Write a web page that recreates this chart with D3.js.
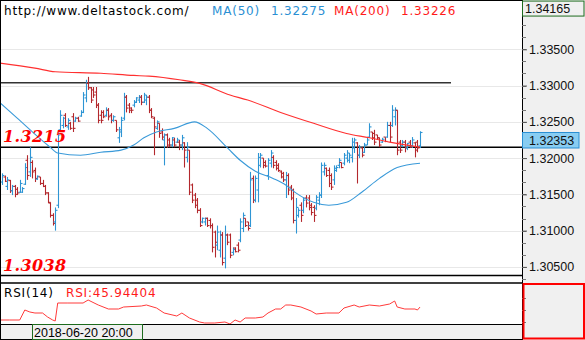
<!DOCTYPE html>
<html><head><meta charset="utf-8">
<script src="https://cdn.jsdelivr.net/npm/d3@7/dist/d3.min.js"></script>
<style>html,body{margin:0;padding:0;background:#fff;overflow:hidden}</style>
</head><body>
<svg id="c" width="585" height="340"></svg>
<script>
// ---------- data ----------
const open = [1.3167,1.3174,1.3161,1.3169,1.3155,1.3161,1.3157,1.3153,1.3153,1.3164,1.3197,1.3181,1.3194,1.3183,1.3171,1.3174,1.3165,1.3161,1.3152,1.3138,1.3121,1.3112,1.3135,1.3239,1.3245,1.3259,1.3243,1.3248,1.3257,1.3251,1.3255,1.3258,1.3263,1.3283,1.3303,1.3297,1.3294,1.3291,1.3273,1.3259,1.3263,1.3259,1.3266,1.3259,1.3252,1.3252,1.3228,1.3236,1.3255,1.3284,1.3273,1.3269,1.3273,1.3277,1.3280,1.3284,1.3277,1.3280,1.3284,1.3266,1.3255,1.3241,1.3248,1.3236,1.3225,1.3232,1.3225,1.3218,1.3225,1.3222,1.3222,1.3218,1.3221,1.3201,1.3211,1.3163,1.3149,1.3142,1.3128,1.3112,1.3112,1.3117,1.3114,1.3107,1.3098,1.3080,1.3073,1.3094,1.3062,1.3094,1.3094,1.3070,1.3076,1.3080,1.3087,1.3103,1.3117,1.3112,1.3107,1.3172,1.3142,1.3156,1.3190,1.3200,1.3194,1.3176,1.3193,1.3201,1.3194,1.3190,1.3181,1.3179,1.3170,1.3176,1.3160,1.3156,1.3114,1.3121,1.3135,1.3128,1.3145,1.3145,1.3135,1.3132,1.3131,1.3142,1.3149,1.3181,1.3186,1.3183,1.3176,1.3170,1.3183,1.3190,1.3194,1.3193,1.3200,1.3197,1.3201,1.3214,1.3221,1.3204,1.3214,1.3208,1.3218,1.3229,1.3236,1.3234,1.3232,1.3228,1.3222,1.3229,1.3229,1.3245,1.3245,1.3257,1.3266,1.3222,1.3217,1.3222,1.3214,1.3222,1.3217,1.3221,1.3222,1.3217];
const high = [1.3179,1.3176,1.3174,1.3170,1.3163,1.3163,1.3160,1.3170,1.3160,1.3193,1.3204,1.3215,1.3197,1.3187,1.3176,1.3174,1.3170,1.3163,1.3153,1.3139,1.3124,1.3132,1.3236,1.3266,1.3257,1.3262,1.3255,1.3250,1.3262,1.3257,1.3257,1.3266,1.3291,1.3308,1.3312,1.3298,1.3298,1.3298,1.3276,1.3266,1.3266,1.3270,1.3269,1.3262,1.3259,1.3252,1.3243,1.3257,1.3290,1.3287,1.3276,1.3270,1.3280,1.3284,1.3287,1.3287,1.3290,1.3287,1.3287,1.3269,1.3257,1.3252,1.3248,1.3241,1.3234,1.3234,1.3228,1.3229,1.3228,1.3228,1.3225,1.3232,1.3222,1.3222,1.3211,1.3165,1.3152,1.3145,1.3131,1.3118,1.3118,1.3118,1.3117,1.3110,1.3100,1.3107,1.3100,1.3098,1.3107,1.3096,1.3096,1.3077,1.3077,1.3084,1.3117,1.3125,1.3117,1.3112,1.3181,1.3176,1.3176,1.3207,1.3207,1.3200,1.3197,1.3200,1.3211,1.3204,1.3197,1.3193,1.3183,1.3181,1.3181,1.3179,1.3163,1.3158,1.3145,1.3131,1.3139,1.3146,1.3149,1.3149,1.3138,1.3135,1.3149,1.3153,1.3194,1.3194,1.3187,1.3187,1.3179,1.3190,1.3190,1.3200,1.3194,1.3207,1.3211,1.3207,1.3228,1.3228,1.3222,1.3218,1.3215,1.3221,1.3228,1.3248,1.3236,1.3239,1.3232,1.3228,1.3228,1.3229,1.3250,1.3250,1.3273,1.3270,1.3266,1.3225,1.3225,1.3225,1.3221,1.3225,1.3229,1.3222,1.3225,1.3237];
const low = [1.3163,1.3167,1.3156,1.3152,1.3149,1.3146,1.3149,1.3152,1.3152,1.3163,1.3170,1.3174,1.3172,1.3167,1.3170,1.3163,1.3160,1.3149,1.3138,1.3118,1.3107,1.3100,1.3131,1.3236,1.3241,1.3243,1.3239,1.3239,1.3236,1.3250,1.3250,1.3257,1.3262,1.3277,1.3294,1.3276,1.3283,1.3269,1.3248,1.3248,1.3255,1.3257,1.3252,1.3248,1.3250,1.3236,1.3221,1.3229,1.3252,1.3263,1.3262,1.3262,1.3270,1.3276,1.3276,1.3273,1.3276,1.3273,1.3262,1.3255,1.3204,1.3239,1.3228,1.3225,1.3190,1.3214,1.3215,1.3215,1.3215,1.3221,1.3211,1.3211,1.3187,1.3194,1.3149,1.3138,1.3131,1.3124,1.3105,1.3110,1.3107,1.3105,1.3103,1.3070,1.3063,1.3073,1.3063,1.3052,1.3048,1.3080,1.3062,1.3066,1.3070,1.3070,1.3084,1.3098,1.3105,1.3100,1.3105,1.3138,1.3139,1.3139,1.3187,1.3186,1.3187,1.3170,1.3187,1.3186,1.3183,1.3181,1.3172,1.3167,1.3145,1.3149,1.3142,1.3110,1.3096,1.3118,1.3112,1.3124,1.3132,1.3128,1.3121,1.3112,1.3128,1.3135,1.3145,1.3176,1.3174,1.3160,1.3156,1.3163,1.3181,1.3186,1.3186,1.3190,1.3194,1.3193,1.3194,1.3207,1.3165,1.3200,1.3201,1.3207,1.3218,1.3228,1.3225,1.3218,1.3225,1.3215,1.3221,1.3222,1.3228,1.3222,1.3243,1.3245,1.3204,1.3207,1.3215,1.3208,1.3211,1.3214,1.3214,1.3201,1.3208,1.3214];
const close = [1.3176,1.3168,1.3170,1.3155,1.3161,1.3150,1.3152,1.3165,1.3158,1.3187,1.3176,1.3201,1.3181,1.3172,1.3175,1.3165,1.3161,1.3152,1.3139,1.3121,1.3110,1.3128,1.3232,1.3259,1.3255,1.3245,1.3252,1.3241,1.3241,1.3255,1.3251,1.3263,1.3287,1.3303,1.3297,1.3280,1.3287,1.3273,1.3252,1.3252,1.3257,1.3266,1.3257,1.3252,1.3257,1.3239,1.3239,1.3252,1.3284,1.3269,1.3266,1.3266,1.3277,1.3283,1.3284,1.3277,1.3287,1.3284,1.3266,1.3257,1.3243,1.3250,1.3234,1.3229,1.3232,1.3218,1.3218,1.3228,1.3218,1.3225,1.3218,1.3228,1.3211,1.3215,1.3153,1.3142,1.3135,1.3128,1.3107,1.3117,1.3117,1.3107,1.3107,1.3077,1.3084,1.3098,1.3094,1.3056,1.3094,1.3084,1.3066,1.3074,1.3071,1.3073,1.3112,1.3121,1.3107,1.3103,1.3170,1.3142,1.3172,1.3201,1.3204,1.3190,1.3189,1.3197,1.3207,1.3190,1.3186,1.3183,1.3174,1.3170,1.3176,1.3156,1.3145,1.3114,1.3132,1.3128,1.3121,1.3142,1.3138,1.3132,1.3125,1.3121,1.3146,1.3149,1.3190,1.3190,1.3176,1.3165,1.3160,1.3186,1.3187,1.3197,1.3187,1.3204,1.3207,1.3204,1.3222,1.3225,1.3204,1.3215,1.3204,1.3218,1.3225,1.3243,1.3228,1.3222,1.3228,1.3218,1.3226,1.3223,1.3245,1.3229,1.3266,1.3266,1.3211,1.3211,1.3222,1.3214,1.3220,1.3215,1.3225,1.3211,1.3214,1.32353];

const ma50Idx = [-1,6,19,22,31,39,47,52,56,61,68,76,81,89,94,100,107,112,116,123,129,136,142,149,156,165];
const ma50Val = [1.3277,1.3255,1.3215,1.3207,1.3204,1.3208,1.3211,1.3218,1.3228,1.3236,1.3241,1.3250,1.3241,1.3214,1.3197,1.3182,1.3172,1.3163,1.3152,1.3139,1.3135,1.3139,1.3153,1.3172,1.3187,1.3193];
const ma200Idx = [-1,13,21,39,52,58,70,78,90,97,110,123,136,145,153,165];
const ma200Val = [1.3331,1.3324,1.3319,1.3317,1.3314,1.3313,1.3308,1.3303,1.3287,1.3280,1.3263,1.3248,1.3234,1.3228,1.3222,1.3215];

const rsiIdx = [-1,3,7,9,11,13,16,18,20,21,22,26,32,34,38,42,46,48,55,57,61,64,69,71,74,78,80,84,88,90,92,94,96,100,103,105,108,110,112,114,118,122,124,128,133,135,139,141,145,149,153,155,156,159,163,164,165];
const rsiVal = [33,33,33,43,41,40,40,36,33,32,50,50,50,53,48,44,44,46,47,48,45,40,37,40,35,31,30,30,31,29,33,31,35,35,36,40,44,44,48,48,46,42,39,40,40,45,48,46,48,47,49,52,46,44,44,43,45.94];
const rsiTicks = [31,43,55];

const priceTicks = [1.305,1.310,1.315,1.320,1.325,1.330,1.335];
const levelPrices = [1.3215,1.3038];
const levelLabels = ["1.3215","1.3038"];
const resistancePrice = 1.3304;
const lastPrice = 1.32353;
const topPrice = 1.34165;
const dateLabel = "2018-06-20 20:00";
const siteLabel = "http://www.deltastock.com/";
const ma50Text = ["MA(50)","1.32275"];
const ma200Text = ["MA(200)","1.33226"];
const rsiText = ["RSI(14)","RSI:45.94404"];

// ---------- chart ----------
const svg = d3.select("#c");
const W = 585, H = 340, axisX = 522;
const N = close.length;
const x = d3.scaleLinear().domain([0, N-1]).range([2, 420]);
const y = d3.scaleLinear().domain([1.305, 1.335]).range([266.9, 49.3]);
const yr = d3.scaleLinear().domain([29, 70]).range([324, 283]);
const UP = "#2e95d4", DOWN = "#b3282d", MA50C = "#3a9ad9", RED = "#ff1a1a";

svg.append("rect").attr("width", W).attr("height", H).attr("fill", "#fff");

// gridlines
svg.append("g").selectAll("line").data(priceTicks).join("line")
  .attr("x1", 0).attr("x2", axisX)
  .attr("y1", d => Math.round(y(d)) + 0.5).attr("y2", d => Math.round(y(d)) + 0.5)
  .attr("stroke", "#e8e8e8").attr("stroke-width", 1);

// resistance line
svg.append("line").attr("x1", 0).attr("x2", 451)
  .attr("y1", y(resistancePrice)).attr("y2", y(resistancePrice))
  .attr("stroke", "#333").attr("stroke-width", 1.5);

// level lines
svg.append("g").selectAll("line").data(levelPrices).join("line")
  .attr("x1", 0).attr("x2", axisX)
  .attr("y1", d => y(d)).attr("y2", d => y(d))
  .attr("stroke", "#000").attr("stroke-width", 1.5);

// bars
const plot = svg.append("g");
const idx = d3.range(N);
const bx = i => Math.round(x(i)) + 0.5;
const col = i => close[i] >= open[i] ? UP : DOWN;
const bars = plot.selectAll("g.bar").data(idx).join("g").attr("class", "bar")
  .attr("stroke", col).attr("stroke-width", 1.1);
bars.append("line").attr("x1", bx).attr("x2", bx)
  .attr("y1", i => y(high[i])).attr("y2", i => y(low[i]));
bars.append("line").attr("x1", i => bx(i) - 2).attr("x2", bx)
  .attr("y1", i => y(open[i])).attr("y2", i => y(open[i]));
bars.append("line").attr("x1", bx).attr("x2", i => bx(i) + 2)
  .attr("y1", i => y(close[i])).attr("y2", i => y(close[i]));

// moving averages
const ma = (ix, v) => d3.line().curve(d3.curveMonotoneX)
  .x((d, k) => x(ix[k])).y((d, k) => y(v[k]))(v);
svg.append("path").attr("d", ma(ma200Idx, ma200Val)).attr("fill", "none")
  .attr("stroke", "#ff3030").attr("stroke-width", 1.1);
svg.append("path").attr("d", ma(ma50Idx, ma50Val)).attr("fill", "none")
  .attr("stroke", MA50C).attr("stroke-width", 1.1);

// level labels
svg.append("g").selectAll("text").data(levelPrices).join("text")
  .attr("x", 3).attr("y", (d, k) => y(d) - 5)
  .attr("font-family", "DejaVu Serif").attr("font-weight", "bold").attr("font-style", "italic")
  .attr("font-size", 16).attr("letter-spacing", 0.4).attr("fill", "#ff0000")
  .text((d, k) => levelLabels[k]);

// header
const hf = {"font-family": "DejaVu Sans", "font-size": 12, "letter-spacing": 0.8};
function txt(g, s, xx, yy, fill, attrs) {
  const t = g.append("text").attr("x", xx).attr("y", yy).attr("fill", fill).text(s);
  Object.entries(attrs).forEach(([k, v]) => t.attr(k, v));
  return t;
}
txt(svg, siteLabel, 4, 15, "#000", hf);
txt(svg, ma50Text[0], 212, 15, "#2a8fd3", hf);
txt(svg, ma50Text[1], 271, 15, "#2a8fd3", hf);
txt(svg, ma200Text[0], 334, 15, RED, hf);
txt(svg, ma200Text[1], 401, 15, RED, hf);

// RSI panel
svg.append("line").attr("x1", 0).attr("x2", axisX).attr("y1", 283).attr("y2", 283)
  .attr("stroke", "#000").attr("stroke-width", 1.5);
svg.append("path").attr("d", d3.line().x((d, k) => x(rsiIdx[k])).y(d => yr(d))(rsiVal))
  .attr("fill", "none").attr("stroke", "#ff3a3a").attr("stroke-width", 1);
txt(svg, rsiText[0], 4, 297, "#000", hf);
txt(svg, rsiText[1], 66, 297, RED, hf);

// bottom time strip
svg.append("rect").attr("x", 0).attr("y", 324).attr("width", axisX).attr("height", 16).attr("fill", "#f0f0f0");
svg.append("line").attr("x1", 0).attr("x2", axisX).attr("y1", 324.5).attr("y2", 324.5).attr("stroke", "#000");
svg.append("line").attr("x1", 0).attr("x2", axisX).attr("y1", 339.5).attr("y2", 339.5).attr("stroke", "#000");
svg.append("rect").attr("x", 32.5).attr("y", 324.5).attr("width", 110).attr("height", 15)
  .attr("fill", "#f0f0f0").attr("stroke", "#1d6b1d");
txt(svg, dateLabel, 34, 337, "#000", {"font-family": "Liberation Sans", "font-size": 12.5});

// borders
svg.append("line").attr("x1", 0).attr("x2", axisX).attr("y1", 0.5).attr("y2", 0.5).attr("stroke", "#000");
svg.append("line").attr("x1", 0.5).attr("x2", 0.5).attr("y1", 0).attr("y2", 340).attr("stroke", "#000");

// right axis
svg.append("rect").attr("x", axisX).attr("y", 0).attr("width", W - axisX).attr("height", H).attr("fill", "#f0f0f0");
svg.append("line").attr("x1", axisX + 0.5).attr("x2", axisX + 0.5).attr("y1", 0).attr("y2", H).attr("stroke", "#000");

const minor = d3.range(-1, 23).map(k => priceTicks[0] + k * (priceTicks[1] - priceTicks[0]) / 3)
  .filter(v => y(v) > 18 && y(v) < 281);
svg.append("g").selectAll("line").data(minor).join("line")
  .attr("x1", axisX).attr("x2", axisX + 4)
  .attr("y1", d => Math.round(y(d)) + 0.5).attr("y2", d => Math.round(y(d)) + 0.5)
  .attr("stroke", "#777");
svg.append("g").selectAll("line").data(rsiTicks).join("line")
  .attr("x1", axisX).attr("x2", axisX + 4)
  .attr("y1", d => Math.round(yr(d)) + 0.5).attr("y2", d => Math.round(yr(d)) + 0.5)
  .attr("stroke", "#777");

const axis = d3.axisRight(y).tickValues(priceTicks).tickSize(5).tickPadding(2)
  .tickFormat(d3.format(".5f"));
const ag = svg.append("g").attr("transform", `translate(${axisX},0)`).call(axis);
ag.select(".domain").remove();
ag.selectAll(".tick line").attr("stroke", "#555");
ag.selectAll(".tick text").attr("font-family", "Liberation Sans").attr("font-size", 12.5).attr("fill", "#111");

// top value box
const ty = y(topPrice);
svg.append("rect").attr("x", axisX + 0.5).attr("y", ty).attr("width", 61.5).attr("height", 15)
  .attr("fill", "#f0f0f0").attr("stroke", "#1d6b1d");
txt(svg, d3.format(".5f")(topPrice), axisX + 3, ty + 12, "#111", {"font-family": "Liberation Sans", "font-size": 12.5});

// current price box
const cy = y(lastPrice);
svg.append("rect").attr("x", axisX + 0.5).attr("y", cy).attr("width", 56.5).attr("height", 15.5)
  .attr("fill", "#88cdf2").attr("stroke", "#2a8fd3");
txt(svg, d3.format(".5f")(lastPrice), axisX + 7, cy + 12.5, "#111", {"font-family": "Liberation Sans", "font-size": 12.5});

// RSI axis box
svg.append("rect").attr("x", axisX + 1.5).attr("y", 284).attr("width", 60.5).attr("height", 54.5)
  .attr("fill", "none").attr("stroke", "#ff0000").attr("stroke-width", 2);
</script>
</body></html>
